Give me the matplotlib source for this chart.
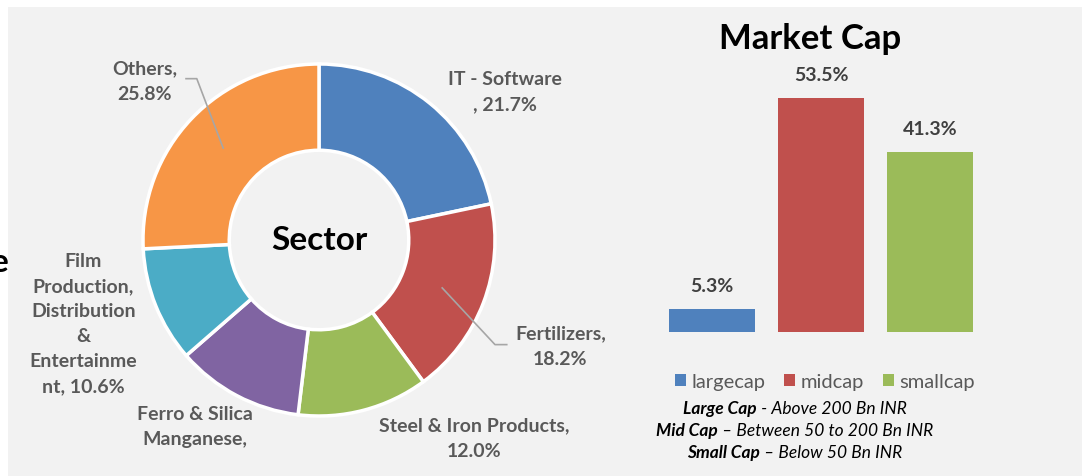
import numpy as np
import matplotlib.pyplot as plt
from matplotlib.patches import Rectangle, Patch

plt.rcParams['font.family'] = ['Lato', 'DejaVu Sans']

# sector data (clockwise from 12 o'clock)
sectors = ['IT - Software', 'Fertilizers', 'Steel & Iron Products', 'Ferro & Silica Manganese',
           'Film Production, Distribution & Entertainment', 'Others']
sector_pct = [21.7, 18.2, 12.0, 11.7, 10.6, 25.8]
sector_labels = ['IT - Software\n, 21.7%', 'Fertilizers,\n18.2%', 'Steel & Iron Products,\n12.0%',
                 'Ferro & Silica\nManganese,', 'Film\nProduction,\nDistribution\n&\nEntertainme\nnt, 10.6%',
                 'Others,\n25.8%']
sector_colors = ['#4F81BD', '#C0504D', '#9BBB59', '#8064A2', '#4BACC6', '#F79646']

# market cap data
caps = ['largecap', 'midcap', 'smallcap']
cap_pct = [5.3, 53.5, 41.3]
cap_colors = ['#4F81BD', '#C0504D', '#9BBB59']
cap_notes = [('Large Cap', ' - Above 200 Bn INR'),
             ('Mid Cap', ' \u2013 Between 50 to 200 Bn INR'),
             ('Small Cap', ' \u2013 Below 50 Bn INR')]

W, H = 1082, 477
fig = plt.figure(figsize=(W / 100, H / 100), dpi=100)
fig.patch.set_facecolor('white')
fig.patches.append(Rectangle((8 / W, 0), 1, 1 - 8 / H, transform=fig.transFigure,
                             facecolor='#F2F2F2', edgecolor='none', zorder=-10))


def px_axes(x0, y0, x1, y1):
    # axes from pixel box (top-left origin)
    return fig.add_axes([x0 / W, 1 - y1 / H, (x1 - x0) / W, (y1 - y0) / H])


# ---- donut ----
cx, cy, R = 319, 241, 180
half = 220
ax = px_axes(cx - half, cy - half, cx + half, cy + half)
ax.set_xlim(-half / R, half / R)
ax.set_ylim(-half / R, half / R)
ax.set_aspect('equal')
ax.axis('off')
ax.pie(sector_pct, colors=sector_colors, startangle=90, counterclock=False, radius=1,
       wedgeprops=dict(width=0.49, edgecolor='white', linewidth=2.5))
ax.text(0, 0, 'Sector', ha='center', va='center', fontsize=24, fontweight='bold', color='black')


def d(px, py):
    return ((px - cx) / R, (cy - py) / R)


label_pos = [(509, 89), (566, 349), (478, 443), (192, 431), (78, 326), (141, 78)]
for lab, (px, py) in zip(sector_labels, label_pos):
    ax.text(*d(px, py), lab, ha='center', va='center', fontsize=14, fontweight='bold',
            color='#595959', linespacing=1.58, clip_on=False)

# leader lines
for pts in [[(221, 147), (194, 76), (183, 76)], [(445, 290), (499, 348), (511, 348)]]:
    xs, ys = zip(*[d(*p) for p in pts])
    ax.plot(xs, ys, color='#A6A6A6', lw=1.2, clip_on=False)

fig.text(9 / W, 1 - 262 / H, 'e', ha='right', va='center', fontsize=24, fontweight='bold')

# ---- market cap bars ----
bx = px_axes(657.5, 71, 984.5, 333)
bx.set_xlim(-0.5, 2.5)
bx.set_ylim(0, 60)
bx.axis('off')
bars = bx.bar(range(3), cap_pct, width=0.79, color=cap_colors)
for b, v in zip(bars, cap_pct):
    bx.annotate(f'{v}%', (b.get_x() + b.get_width() / 2, v), xytext=(0, 17), textcoords='offset points',
                ha='center', va='center', fontsize=14, fontweight='bold', color='#404040')
fig.text(810 / W, 1 - 39 / H, 'Market Cap', ha='center', va='center', fontsize=25,
         fontweight='bold', color='black')

handles = [Patch(facecolor=c, label=n) for c, n in zip(cap_colors, caps)]
fig.legend(handles=handles, loc='center', bbox_to_anchor=(825 / W, 1 - 383 / H), ncol=3,
           frameon=False, fontsize=14.5, handlelength=0.55, handleheight=0.55, handletextpad=0.3,
           columnspacing=0.9, labelcolor='#595959')

# cap notes: bold italic head + italic tail, centred as one line
renderer = fig.canvas.get_renderer()
for (head, tail), py in zip(cap_notes, [409, 431, 453]):
    t1 = fig.text(0, 1 - py / H, head, fontsize=12.5, fontstyle='italic', fontweight='bold', va='center')
    t2 = fig.text(0, 1 - py / H, tail, fontsize=12.5, fontstyle='italic', va='center')
    w1 = t1.get_window_extent(renderer).width
    w2 = t2.get_window_extent(renderer).width
    x0 = 795 - (w1 + w2) / 2
    t1.set_x(x0 / W)
    t2.set_x((x0 + w1) / W)

fig.savefig('out.png', dpi=100, facecolor=fig.get_facecolor())
